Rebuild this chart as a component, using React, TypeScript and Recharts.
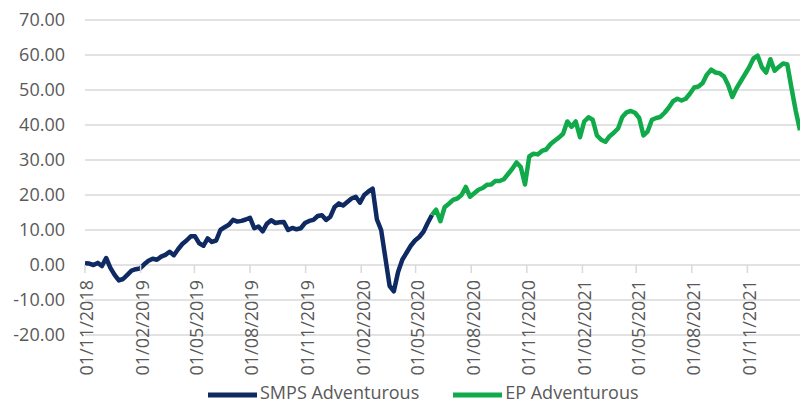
import React from 'react';
import { LineChart, Line, XAxis, YAxis, CartesianGrid, Legend } from 'recharts';

// ---- data ----
const startDate = '2018-11-01';
const stepDays = 7;

// SMPS Adventurous (weekly, from 01/11/2018)
const smpsValues: number[] = [
  0.5, 0.4, 0.0, 0.6, -0.3, 2.0, -0.8, -2.8, -4.4, -4.0,
  -2.8, -1.6, -1.2, -1.0, 0.2, 1.2, 1.8, 1.5, 2.4, 2.9,
  3.8, 2.8, 4.5, 6.0, 7.0, 8.2, 8.2, 6.2, 5.5, 7.6,
  6.6, 7.0, 10.0, 10.8, 11.5, 12.9, 12.4, 12.6, 13.0, 13.5,
  10.5, 11.0, 9.6, 11.8, 12.8, 12.0, 12.2, 12.3, 10.0, 10.6,
  10.2, 10.5, 12.0, 12.6, 12.9, 14.0, 14.2, 12.9, 13.8, 16.6,
  17.6, 17.0, 18.0, 19.0, 19.5, 17.8, 20.0, 21.0, 21.8, 13.0,
  10.0, 2.0, -6.0, -7.5, -2.0, 1.5, 3.5, 5.5, 7.0, 8.0,
  9.5, 12.0, 14.3,
];

// EP Adventurous (weekly, continuing from the last SMPS point)
const epValues: number[] = [
  14.3, 15.8, 12.5, 16.5, 17.5, 18.6, 19.0, 20.0, 22.3, 19.5,
  20.5, 21.5, 22.0, 22.9, 23.0, 24.0, 24.0, 24.5, 26.0, 27.5,
  29.3, 28.0, 23.0, 31.0, 31.8, 31.6, 32.6, 33.0, 34.5, 35.5,
  36.4, 37.5, 41.0, 39.5, 41.0, 36.5, 41.0, 42.2, 41.5, 37.0,
  35.8, 35.2, 36.8, 37.8, 39.0, 42.3, 43.6, 44.0, 43.5, 42.0,
  37.0, 38.2, 41.5, 42.0, 42.3, 43.5, 45.0, 46.8, 47.5, 47.0,
  47.5, 49.0, 50.7, 51.0, 52.0, 54.4, 55.8, 55.0, 54.8, 53.9,
  51.5, 48.0, 50.5, 52.5, 54.5, 56.5, 59.0, 59.8, 56.5, 55.0,
  58.8, 55.5, 56.6, 57.6, 57.3, 50.5, 44.0, 38.5,
];

const xTickLabels: string[] = [
  '01/11/2018', '01/02/2019', '01/05/2019', '01/08/2019', '01/11/2019',
  '01/02/2020', '01/05/2020', '01/08/2020', '01/11/2020', '01/02/2021',
  '01/05/2021', '01/08/2021', '01/11/2021',
];

const yTicks: number[] = [-20, -10, 0, 10, 20, 30, 40, 50, 60, 70];

const seriesNames = { smps: 'SMPS Adventurous', ep: 'EP Adventurous' };
const seriesColors = { smps: '#0f2a62', ep: '#10aa4a' };

// ---- helpers ----
const DAY = 86400000;
const parseDMY = (s: string) => {
  const [d, m, y] = s.split('/').map(Number);
  return Date.UTC(y, m - 1, d);
};
const fmtDMY = (t: number) => {
  const dt = new Date(t);
  const dd = String(dt.getUTCDate()).padStart(2, '0');
  const mm = String(dt.getUTCMonth() + 1).padStart(2, '0');
  return `${dd}/${mm}/${dt.getUTCFullYear()}`;
};

const t0 = Date.parse(startDate + 'T00:00:00Z');
const splitIndex = smpsValues.length - 1;
const totalPoints = splitIndex + epValues.length;

const data = Array.from({ length: totalPoints }, (_, i) => ({
  t: t0 + i * stepDays * DAY,
  smps: i <= splitIndex ? smpsValues[i] : null,
  ep: i >= splitIndex ? epValues[i - splitIndex] : null,
}));

const xTicks = xTickLabels.map(parseDMY);

// ---- layout ----
const W = 800;
const H = 405;
const X_AXIS_H = 1;
const MARGIN = { top: 20, right: 0, bottom: 69, left: 0 };
const PLOT_H = H - MARGIN.top - MARGIN.bottom - X_AXIS_H;
const Y_MIN = -20;
const Y_MAX = 70;
const ZERO_SHIFT = (PLOT_H * (0 - Y_MIN)) / (Y_MAX - Y_MIN);
const FONT = '"Open Sans", "DejaVu Sans", sans-serif';
const TEXT_COLOR = '#595959';
const GRID_COLOR = '#d9d9d9';

const DateTick = (props: any) => {
  const { x, y, payload } = props;
  const y0 = y - ZERO_SHIFT;
  const ty = y0 + 15;
  return (
    <g>
      <line x1={x} y1={y0} x2={x} y2={y0 + 8} stroke={GRID_COLOR} strokeWidth={1.5} />
      <text
        x={x + 2}
        y={ty}
        transform={`rotate(-90, ${x + 2}, ${ty})`}
        textAnchor="end"
        dy="0.35em"
        fontSize={18}
        fontFamily={FONT}
        fill={TEXT_COLOR}
      >
        {fmtDMY(payload.value)}
      </text>
    </g>
  );
};

const LegendContent = () => (
  <div style={{ display: 'flex', alignItems: 'center', height: 24, fontFamily: FONT, fontSize: 18, color: TEXT_COLOR, whiteSpace: 'nowrap' }}>
    {(['smps', 'ep'] as const).map((k) => (
      <div key={k} style={{ display: 'flex', alignItems: 'center', marginRight: 34, height: 24 }}>
        <svg width={49} height={8} style={{ marginRight: 3, display: 'block', position: 'relative', top: 3 }}>
          <line x1={0} y1={4} x2={49} y2={4} stroke={seriesColors[k]} strokeWidth={5} />
        </svg>
        <span>{seriesNames[k]}</span>
      </div>
    ))}
  </div>
);

export default function App() {
  return (
    <div style={{ position: 'absolute', left: 0, top: 0, width: W, height: H, background: '#fff' }}>
      <LineChart width={W} height={H} data={data} margin={MARGIN}>
        <CartesianGrid horizontal vertical={false} stroke={GRID_COLOR} strokeWidth={1.5} />
        <XAxis
          dataKey="t"
          type="number"
          domain={['dataMin', 'dataMax']}
          ticks={xTicks}
          tick={<DateTick />}
          axisLine={false}
          tickLine={false}
          tickSize={0}
          tickMargin={0}
          height={X_AXIS_H}
          interval={0}
        />
        <YAxis
          type="number"
          domain={[Y_MIN, Y_MAX]}
          ticks={yTicks}
          tickFormatter={(v: number) => v.toFixed(2)}
          axisLine={false}
          tickLine={false}
          tickSize={0}
          tickMargin={20}
          width={85}
          interval={0}
          tick={{ fontSize: 18, fill: TEXT_COLOR, fontFamily: FONT }}
        />
        <Legend
          layout="horizontal"
          verticalAlign="middle"
          align="center"
          wrapperStyle={{ top: 380, left: 208, width: 560, height: 24 }}
          content={() => <LegendContent />}
        />
        <Line
          type="linear"
          dataKey="smps"
          name={seriesNames.smps}
          stroke={seriesColors.smps}
          strokeWidth={4.5}
          dot={false}
          activeDot={false}
          strokeLinejoin="round"
          isAnimationActive={false}
        />
        <Line
          type="linear"
          dataKey="ep"
          name={seriesNames.ep}
          stroke={seriesColors.ep}
          strokeWidth={4.5}
          dot={false}
          activeDot={false}
          strokeLinejoin="round"
          isAnimationActive={false}
        />
      </LineChart>
    </div>
  );
}
